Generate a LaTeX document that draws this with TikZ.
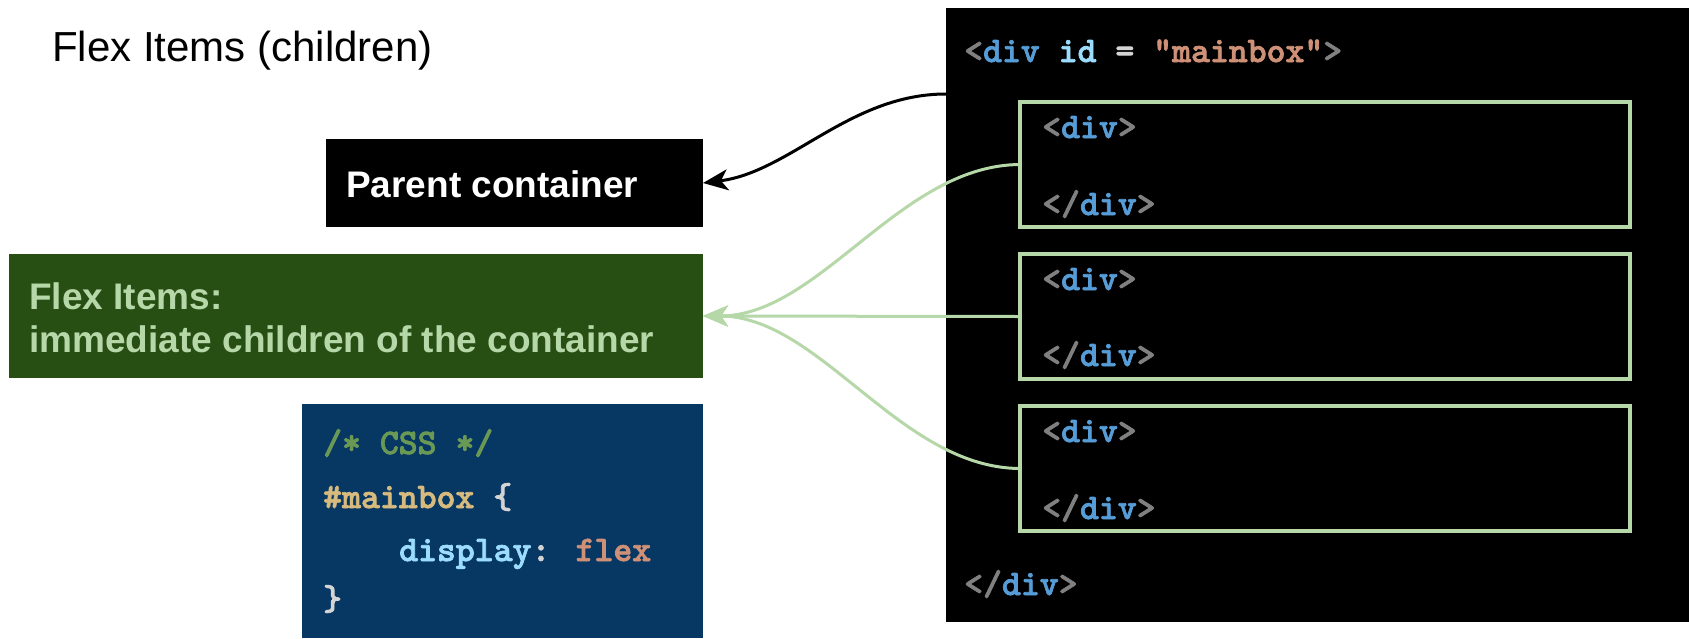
\documentclass[tikz,border=0pt]{standalone}
\usepackage{fontspec}
\setmainfont{Liberation Sans}
\newfontfamily\codefam{lmmonolt10-bold.otf}[FakeBold=2]
\usetikzlibrary{arrows.meta}
\definecolor{dkgreen}{HTML}{274E13}
\definecolor{ltgreen}{HTML}{B6D7A8}
\definecolor{dkblue}{HTML}{073763}
\definecolor{cgray}{HTML}{808080}
\definecolor{ctag}{HTML}{569CD6}
\definecolor{cattr}{HTML}{9CDCFE}
\definecolor{cstr}{HTML}{CE9178}
\definecolor{cpunct}{HTML}{D4D4D4}
\definecolor{ccomm}{HTML}{6A9955}
\definecolor{csel}{HTML}{D7BA7D}
\newcommand\codesz{\codefam\fontsize{36}{40}\selectfont}
\newcommand\opendiv{\textcolor{cgray}{<}\textcolor{ctag}{div}\textcolor{cgray}{>}}
\newcommand\closediv{\textcolor{cgray}{</}\textcolor{ctag}{div}\textcolor{cgray}{>}}
\tikzset{
  box/.style={anchor=north west, inner sep=0pt, outer sep=0pt},
  itembox/.style={box, draw=ltgreen, line width=3.5pt, minimum width=610pt, minimum height=125pt},
  code/.style={anchor=base west, inner sep=0pt, font=\codesz},
  label/.style={anchor=base west, inner sep=0pt, font=\bfseries\fontsize{37}{44}\selectfont},
  conn/.style={line width=3pt, -{Stealth[length=25pt,width=21pt,inset=7pt]}}
}
\begin{document}
\begin{tikzpicture}[x=1pt,y=-1pt]
\useasboundingbox (0,0) rectangle (1689,638);
% title
\node[anchor=base west, inner sep=0pt, font=\fontsize{42}{50}\selectfont] (title) at (52,61) {Flex Items (children)};
% left boxes
\node[box, fill=black, minimum width=377pt, minimum height=88pt] (parentbox) at (326,139) {};
\node[label, text=white] (parenttxt) at (346,197) {Parent container};
\node[box, fill=dkgreen, minimum width=694pt, minimum height=124pt] (flexbox) at (9,254) {};
\node[label, text=ltgreen] (flextxt1) at (29,309) {Flex Items:};
\node[label, text=ltgreen] (flextxt2) at (29,352) {immediate children of the container};
\node[box, fill=dkblue, minimum width=401pt, minimum height=234pt] (cssbox) at (302,404) {};
\node[code, text=ccomm] (css1) at (323,454) {/* CSS */};
\node[code] (css2) at (323,508) {\textcolor{csel}{\#mainbox} \textcolor{cpunct}{\{}};
\node[code] (css3) at (399,561) {\textcolor{cattr}{display}\textcolor{cpunct}{:} \textcolor{cstr}{flex}};
\node[code, text=cpunct] (css4) at (323,610) {\}};
% html box
\node[box, fill=black, minimum width=743pt, minimum height=614pt] (htmlbox) at (946,8) {};
\node[code] (html1) at (964,62) {\textcolor{cgray}{<}\textcolor{ctag}{div} \textcolor{cattr}{id} \textcolor{cpunct}{=} \textcolor{cstr}{"mainbox"}\textcolor{cgray}{>}};
\node[itembox] (item1) at (1020,102) {};
\node[itembox] (item2) at (1020,254) {};
\node[itembox] (item3) at (1020,406) {};
\node[code] (i1a) at (1042,138) {\opendiv};
\node[code] (i1b) at (1042,215) {\closediv};
\node[code] (i2a) at (1042,290) {\opendiv};
\node[code] (i2b) at (1042,366) {\closediv};
\node[code] (i3a) at (1042,442) {\opendiv};
\node[code] (i3b) at (1042,519) {\closediv};
\node[code] (html9) at (964,595) {\closediv};
% connectors
\coordinate (pstart) at (946,94);
\draw[conn, black] (pstart) .. controls (850,94) and (790,172) .. (parentbox.east);
\draw[conn, ltgreen] (item1.west) .. controls (900,165) and (820,316) .. (flexbox.east);
\draw[conn, ltgreen] (item2.west) -- (flexbox.east);
\draw[conn, ltgreen] (item3.west) .. controls (900,468) and (820,316) .. (flexbox.east);
\end{tikzpicture}
\end{document}
